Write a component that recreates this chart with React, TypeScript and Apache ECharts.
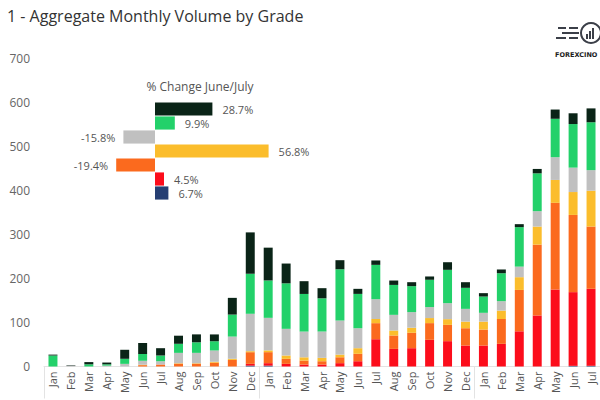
import React, { useEffect, useRef } from "react";
import * as echarts from "echarts";

const months = [
  "Jan","Feb","Mar","Apr","May","Jun","Jul","Aug","Sep","Oct","Nov","Dec",
  "Jan","Feb","Mar","Apr","May","Jun","Jul","Aug","Sep","Oct","Nov","Dec",
  "Jan","Feb","Mar","Apr","May","Jun","Jul",
];

// stacked from bottom to top
const gradeBlue = [0,0,0,0,0,0,0,0,0,0,0,2, 2,0,0,0,0,0,0,0,0,0,0,0, 0,0,0,0,0,1.5,1.6];
const gradeRed = [0,0,0,0,0,0,0,0,0,0,0,4, 5.6,6,4.5,4.5,7.6,12,62,40,41.6,60.6,57.6,47.7, 47.7,51.5,80,116,175,167.5,175];
const gradeOrange = [0,0,0,0,0,3,4.5,6.5,6.5,8.7,15,26.5, 25,11.4,9,7.5,13.4,16.8,36.5,30.5,35,38,37,39.3, 36.3,56.5,94,161,197,175.5,141.5];
const gradeYellow = [0,0,0,0,0,1,0,1,1,2,2.5,2.3, 4,7.6,7.4,7.7,6,12.8,9.5,11.3,11.5,11.5,13,15, 18,19,29,41,52,52,81.5];
const gradeGray = [0,2,0,2,6,9,7.5,23.5,23.5,25.7,50.5,85, 74,60.6,58.5,59.8,77.5,45.4,45,35.6,35.5,25,36.4,29, 20,21.5,24,35,51.7,55.5,46.7];
const gradeGreen = [25,0,5,3,11.5,15.4,13,20.6,24,21,50,91, 85,103.4,85.5,75.5,116.5,78,78,68,59,62,75.7,47.8, 37,63.5,89.7,86,87.3,99,108.8];
const gradeDark = [2,1,5,4,20.5,25,16.6,18.4,18,15.5,38,94, 74.5,45,29,23,20.6,11.5,10,10,9,7.5,17.3,12.8, 7.7,8.5,6.8,10,21,24.5,31.5];

const yTicks = [0, 100, 200, 300, 400, 500, 600, 700];

// inset: % change June/July, top to bottom
const changeGrades = ["A", "B", "C", "D", "E", "F", "G"];
const changePct = [28.7, 9.9, -15.8, 56.8, -19.4, 4.5, 6.7];

const COLORS = {
  blue: "#263f73",
  red: "#fc0d1b",
  orange: "#fb6a1e",
  yellow: "#fbbd2c",
  gray: "#c0c0c0",
  green: "#23d16a",
  dark: "#0a2417",
};
const changeColors = [COLORS.dark, COLORS.green, COLORS.gray, COLORS.yellow, COLORS.orange, COLORS.red, COLORS.blue];

const FONT = "'Open Sans', 'Noto Sans', sans-serif";

export default function App() {
  const ref = useRef<HTMLDivElement>(null);

  useEffect(() => {
    if (!ref.current) return;
    const chart = echarts.init(ref.current, undefined, { renderer: "svg" });

    const stackSeries = [
      { name: "G", data: gradeBlue, color: COLORS.blue },
      { name: "F", data: gradeRed, color: COLORS.red },
      { name: "E", data: gradeOrange, color: COLORS.orange },
      { name: "D", data: gradeYellow, color: COLORS.yellow },
      { name: "C", data: gradeGray, color: COLORS.gray },
      { name: "B", data: gradeGreen, color: COLORS.green },
      { name: "A", data: gradeDark, color: COLORS.dark },
    ].map((s) => ({
      type: "bar",
      name: s.name,
      stack: "total",
      xAxisIndex: 0,
      yAxisIndex: 0,
      data: s.data,
      barWidth: "50%",
      itemStyle: { color: s.color },
    }));

    const ringCx = 591;
    const ringCy = 33;
    const ink = "#3b3f48";

    chart.setOption({
      animation: false,
      textStyle: { fontFamily: FONT },
      title: [
        {
          text: "1 - Aggregate Monthly Volume by Grade",
          left: 2,
          top: 3,
          textStyle: { fontFamily: FONT, fontSize: 16, fontWeight: "normal", color: "#333" },
        },
        {
          text: "% Change June/July",
          left: 195,
          top: 75,
          textAlign: "center",
          textStyle: { fontFamily: FONT, fontSize: 12, fontWeight: "normal", color: "#555" },
        },
      ],
      grid: [
        { left: 44, right: 0, top: 58.5, bottom: 33.5 },
        { left: 115, width: 160, top: 102, height: 98 },
      ],
      xAxis: [
        {
          type: "category",
          gridIndex: 0,
          data: months,
          axisLine: { show: true, lineStyle: { color: "#e3e3e3" } },
          axisTick: {
            show: true,
            length: 32,
            interval: (index: number) => index === 0 || index === 12 || index === 24,
            lineStyle: { color: "#e3e3e3" },
          },
          axisLabel: { rotate: 90, fontSize: 11, color: "#555", margin: 5, interval: 0, fontFamily: FONT },
        },
        {
          type: "value",
          gridIndex: 1,
          min: -20,
          max: 60,
          show: false,
        },
      ],
      yAxis: [
        {
          type: "value",
          gridIndex: 0,
          min: yTicks[0],
          max: yTicks[yTicks.length - 1],
          interval: 100,
          splitLine: { show: false },
          axisLine: { show: false },
          axisTick: { show: false },
          axisLabel: { fontSize: 12, color: "#666", margin: 14, fontFamily: FONT },
        },
        {
          type: "category",
          gridIndex: 1,
          data: changeGrades,
          inverse: true,
          show: false,
        },
      ],
      series: [
        ...stackSeries,
        {
          type: "bar",
          xAxisIndex: 1,
          yAxisIndex: 1,
          barCategoryGap: "6%",
          data: changePct.map((v, i) => ({
            value: v,
            itemStyle: { color: changeColors[i] },
            label: {
              show: true,
              position: v >= 0 ? "right" : "left",
              distance: v >= 0 ? 10 : 8,
              formatter: `${v}%`,
              fontSize: 11,
              color: "#555",
              fontFamily: FONT,
            },
          })),
        },
      ],
      graphic: [
        { type: "ring", shape: { cx: ringCx, cy: ringCy, r: 11, r0: 9 }, style: { fill: ink } },
        { type: "rect", shape: { x: ringCx - 5, y: ringCy + 1, width: 2, height: 5 }, style: { fill: ink } },
        { type: "rect", shape: { x: ringCx - 2, y: ringCy - 2, width: 2, height: 8 }, style: { fill: ink } },
        { type: "rect", shape: { x: ringCx + 1, y: ringCy - 5, width: 2, height: 11 }, style: { fill: ink } },
        { type: "line", shape: { x1: 558, y1: 28, x2: 566, y2: 28 }, style: { stroke: ink, lineWidth: 2 } },
        { type: "line", shape: { x1: 569, y1: 28, x2: 578, y2: 28 }, style: { stroke: ink, lineWidth: 2 } },
        { type: "line", shape: { x1: 562, y1: 33, x2: 579, y2: 33 }, style: { stroke: ink, lineWidth: 2 } },
        { type: "line", shape: { x1: 556, y1: 38, x2: 566, y2: 38 }, style: { stroke: ink, lineWidth: 2 } },
        { type: "line", shape: { x1: 569, y1: 38, x2: 578, y2: 38 }, style: { stroke: ink, lineWidth: 2 } },
        {
          type: "text",
          x: 555,
          y: 51,
          style: {
            text: "FOREXCINO",
            fontSize: 6.5,
            fontWeight: "bold",
            fill: "#1c1c1c",
            fontFamily: "'DejaVu Sans', sans-serif",
          },
        },
      ],
    });

    return () => chart.dispose();
  }, []);

  return <div ref={ref} style={{ width: 600, height: 400, position: "absolute", left: 0, top: 0 }} />;
}
